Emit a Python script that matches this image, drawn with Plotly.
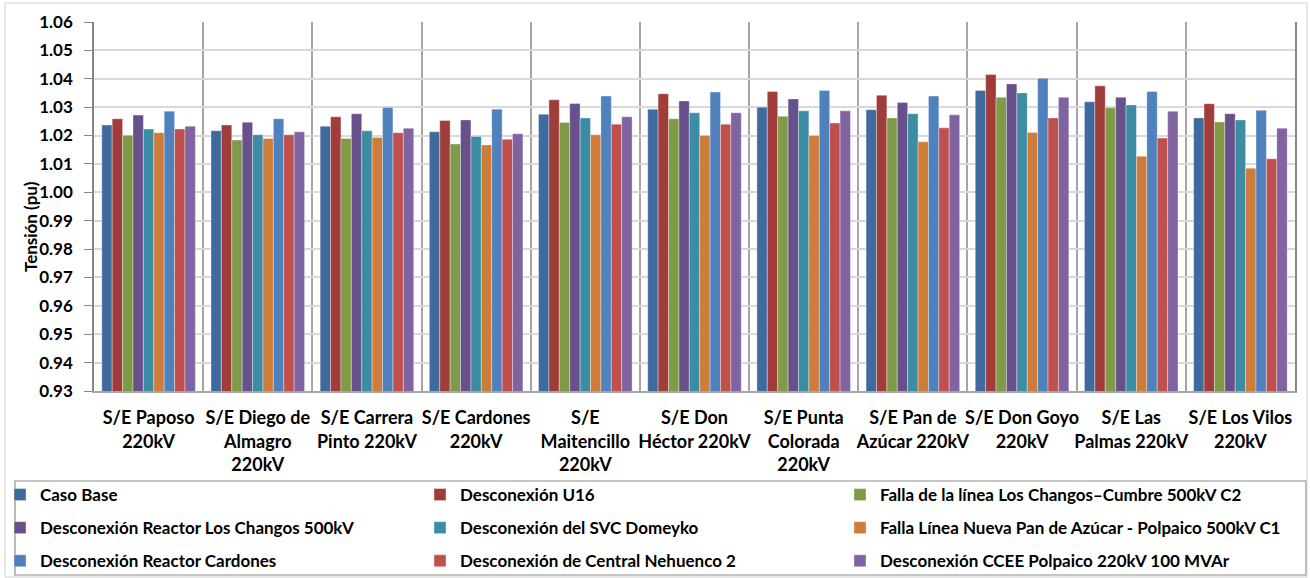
import plotly.graph_objects as go

categories = [
    "S/E Paposo<br>220kV", "S/E Diego de<br>Almagro<br>220kV", "S/E Carrera<br>Pinto 220kV",
    "S/E Cardones<br>220kV", "S/E<br>Maitencillo<br>220kV", "S/E Don<br>Héctor 220kV",
    "S/E Punta<br>Colorada<br>220kV", "S/E Pan de<br>Azúcar 220kV", "S/E Don Goyo<br>220kV",
    "S/E Las<br>Palmas 220kV", "S/E Los Vilos<br>220kV",
]

series_names = [
    "Caso Base",
    "Desconexión U16",
    "Falla de la línea Los Changos–Cumbre 500kV C2",
    "Desconexión Reactor Los Changos 500kV",
    "Desconexión del SVC Domeyko",
    "Falla Línea Nueva Pan de Azúcar - Polpaico 500kV C1",
    "Desconexión Reactor Cardones",
    "Desconexión de Central Nehuenco 2",
    "Desconexión CCEE Polpaico 220kV 100 MVAr",
]

caso_base        = [1.0237, 1.0217, 1.0233, 1.0213, 1.0275, 1.0293, 1.0300, 1.0291, 1.0359, 1.0319, 1.0262]
desc_u16         = [1.0259, 1.0237, 1.0266, 1.0253, 1.0326, 1.0347, 1.0355, 1.0342, 1.0415, 1.0375, 1.0312]
falla_c2         = [1.0201, 1.0184, 1.0190, 1.0170, 1.0246, 1.0259, 1.0268, 1.0262, 1.0335, 1.0298, 1.0248]
reactor_changos  = [1.0272, 1.0247, 1.0277, 1.0255, 1.0313, 1.0322, 1.0329, 1.0316, 1.0382, 1.0335, 1.0277]
svc_domeyko      = [1.0223, 1.0203, 1.0217, 1.0197, 1.0262, 1.0280, 1.0287, 1.0277, 1.0350, 1.0308, 1.0255]
falla_c1         = [1.0210, 1.0190, 1.0193, 1.0167, 1.0203, 1.0200, 1.0200, 1.0178, 1.0211, 1.0127, 1.0085]
reactor_cardones = [1.0286, 1.0259, 1.0299, 1.0293, 1.0339, 1.0353, 1.0359, 1.0339, 1.0402, 1.0355, 1.0289]
nehuenco         = [1.0223, 1.0203, 1.0210, 1.0187, 1.0240, 1.0240, 1.0244, 1.0227, 1.0262, 1.0191, 1.0118]
ccee_polpaico    = [1.0233, 1.0213, 1.0226, 1.0206, 1.0266, 1.0280, 1.0287, 1.0273, 1.0335, 1.0286, 1.0226]

y_ticks = [0.93, 0.94, 0.95, 0.96, 0.97, 0.98, 0.99, 1.00, 1.01, 1.02, 1.03, 1.04, 1.05, 1.06]

series_values = [caso_base, desc_u16, falla_c2, reactor_changos, svc_domeyko,
                 falla_c1, reactor_cardones, nehuenco, ccee_polpaico]
colors = ["#3F6A9E", "#A03D3A", "#7F9B48", "#68518A", "#3C8DA3",
          "#CD7C3A", "#4F81BD", "#C0504D", "#8064A2"]
legend_ids = ["legend", "legend2", "legend3"] * 3

FONT = "Lato"

fig = go.Figure()
for i, (name, vals) in enumerate(zip(series_names, series_values)):
    fig.add_trace(go.Bar(
        x=categories, y=vals, name=name,
        marker=dict(color=colors[i], line=dict(color="rgba(255,255,255,0.35)", width=1)),
        legend=legend_ids[i], legendgroup=f"g{i}",
    ))

W, H = 1310, 578
L, R, T, B = 94, 15, 22, 187
pw = W - L - R
ph = H - T - B

def px_x(x):
    return (x - L) / pw

def px_y(y):
    return (H - B - y) / ph

legend_common = dict(
    orientation="v", xanchor="left", yanchor="top",
    font=dict(family=FONT, size=17, color="#000000", weight="bold"),
    bgcolor="rgba(0,0,0,0)", tracegroupgap=8, itemclick=False,
)

fig.update_layout(
    width=W, height=H,
    margin=dict(l=L, r=R, t=T, b=B, autoexpand=False),
    paper_bgcolor="white", plot_bgcolor="white",
    barmode="group", bargap=0.143, bargroupgap=0,
    font=dict(family=FONT, color="#000000"),
    legend=dict(x=px_x(0), y=px_y(477), **legend_common),
    legend2=dict(x=px_x(420), y=px_y(477), **legend_common),
    legend3=dict(x=px_x(840), y=px_y(477), **legend_common),
    xaxis=dict(
        type="category", tickson="boundaries", showgrid=True,
        gridcolor="#A6A6A6", gridwidth=1.5,
        showline=True, linecolor="#A6A6A6", linewidth=1.5,
        ticks="", tickangle=0, automargin=False,
        ticklabelstandoff=10,
        tickfont=dict(family=FONT, size=18, color="#000000", weight="bold"),
    ),
    yaxis=dict(
        range=[0.93, 1.06], tickvals=y_ticks, tickformat=".2f",
        showgrid=True, gridcolor="#D9D9D9", gridwidth=1.5,
        showline=True, linecolor="#868686", linewidth=1.5, mirror=True,
        ticks="outside", ticklen=8, tickcolor="#868686",
        ticklabelstandoff=8, automargin=False,
        tickfont=dict(family=FONT, size=17, color="#000000", weight="bold"),
        zeroline=False,
    ),
    annotations=[dict(
        text="Tensión (pu)", textangle=-90, showarrow=False,
        xref="paper", yref="paper", x=px_x(30), y=px_y(227),
        xanchor="center", yanchor="middle",
        font=dict(family=FONT, size=17, color="#000000", weight="bold"),
    )],
    shapes=[
        dict(type="rect", xref="paper", yref="paper",
             x0=px_x(15), x1=px_x(1306), y0=px_y(575), y1=px_y(481),
             line=dict(color="#8C8C8C", width=1.2), fillcolor="rgba(0,0,0,0)"),
        dict(type="rect", xref="paper", yref="paper",
             x0=px_x(5), x1=px_x(1307), y0=px_y(577), y1=px_y(3),
             line=dict(color="#D0D0D0", width=1), fillcolor="rgba(0,0,0,0)"),
    ],
)

fig.write_html(
    "out.html",
    config={"displayModeBar": False},
    post_script="document.body.style.margin='0px';document.body.style.overflow='hidden';",
)
